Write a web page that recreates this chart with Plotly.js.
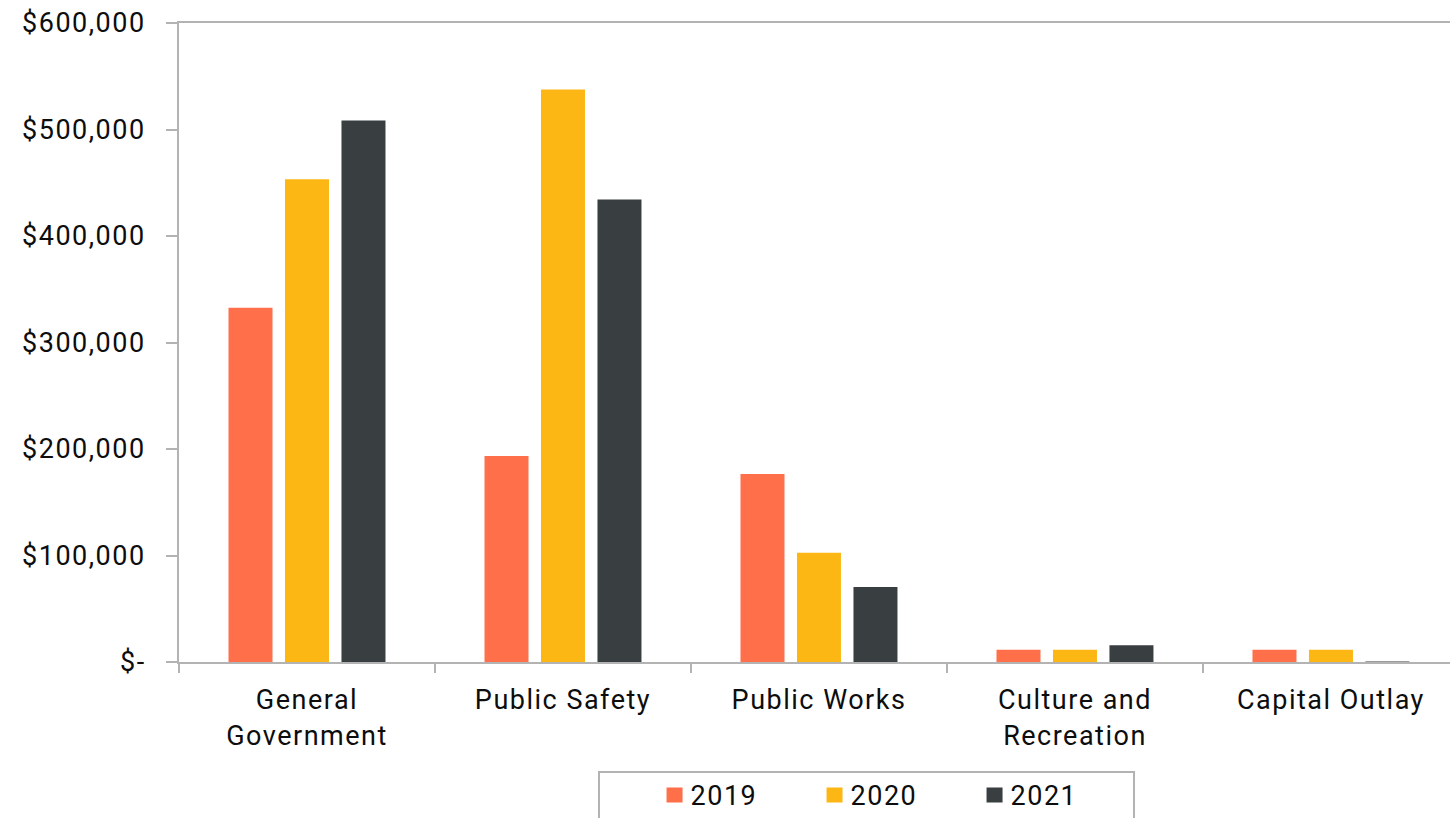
<!DOCTYPE html>
<html><head><meta charset="utf-8">
<script src="https://cdn.plot.ly/plotly-3.0.1.min.js"></script>
<style>html,body{margin:0;padding:0;background:#fff;}#chart{width:1450px;height:818px;}
text{letter-spacing:1.5px;}</style>
</head><body><div id="chart"></div>
<script>
const categories = ["General<br>Government", "Public Safety", "Public Works", "Culture and<br>Recreation", "Capital Outlay"];
const years = ["2019", "2020", "2021"];
const values2019 = [332700, 193500, 176500, 11500, 11500];
const values2020 = [453300, 537600, 102500, 11500, 11500];
const values2021 = [508500, 434200, 70500, 15700, 400];
const colors = ["#FF6F4A", "#FDB714", "#393E41"];
const yTickVals = [0, 100000, 200000, 300000, 400000, 500000, 600000];
const yTickText = ["$-", "$100,000", "$200,000", "$300,000", "$400,000", "$500,000", "$600,000"];

const series = [values2019, values2020, values2021];
const traces = series.map((vals, i) => ({
  type: "bar", name: years[i], x: categories, y: vals,
  marker: {color: colors[i], line: {width: 0}},
  hoverinfo: "skip"
}));

const font = {family: "Roboto, 'Open Sans', sans-serif", size: 27, color: "#0d0d0d"};
const layout = {
  width: 1450, height: 818,
  margin: {l: 179, r: 0, t: 23, b: 156, pad: 0, autoexpand: false},
  paper_bgcolor: "#fff", plot_bgcolor: "#fff",
  font: font,
  barmode: "group", bargap: 0.338, bargroupgap: 0.221,
  showlegend: true,
  legend: {
    orientation: "h", x: 0.371, xanchor: "left", y: -0.1698, yanchor: "top",
    borderwidth: 0, bgcolor: "rgba(0,0,0,0)", font: font,
    entrywidth: 115, entrywidthmode: "pixels", traceorder: "normal"
  },
  shapes: [{
    type: "rect", xref: "paper", yref: "paper",
    x0: (599 - 179) / 1271, x1: (1134 - 179) / 1271, y0: -0.26, y1: -0.172,
    line: {color: "#b3b3b3", width: 2}, fillcolor: "rgba(0,0,0,0)", layer: "below"
  }],
  xaxis: {
    type: "category", range: [-0.5, 4.465], fixedrange: true,
    showline: true, linecolor: "#b3b3b3", linewidth: 2, mirror: true,
    ticks: "outside", tickson: "boundaries", ticklen: 9, tickcolor: "#b3b3b3", tickwidth: 2,
    showgrid: false, zeroline: false, tickfont: font, ticklabelstandoff: 13
  },
  yaxis: {
    range: [0, 600000], fixedrange: true,
    tickvals: yTickVals, ticktext: yTickText,
    showline: true, linecolor: "#b3b3b3", linewidth: 2,
    ticks: "outside", ticklen: 11, tickcolor: "#b3b3b3", tickwidth: 2,
    showgrid: false, zeroline: false, tickfont: font, ticklabelstandoff: 15
  }
};
Plotly.newPlot("chart", traces, layout, {displayModeBar: false, staticPlot: true}).then(gd => {
  gd.querySelectorAll(".legend .legendpoints path").forEach(p => {
    p.setAttribute("d", "M12,8H-4V-7H12Z");
  });
});
</script></body></html>
